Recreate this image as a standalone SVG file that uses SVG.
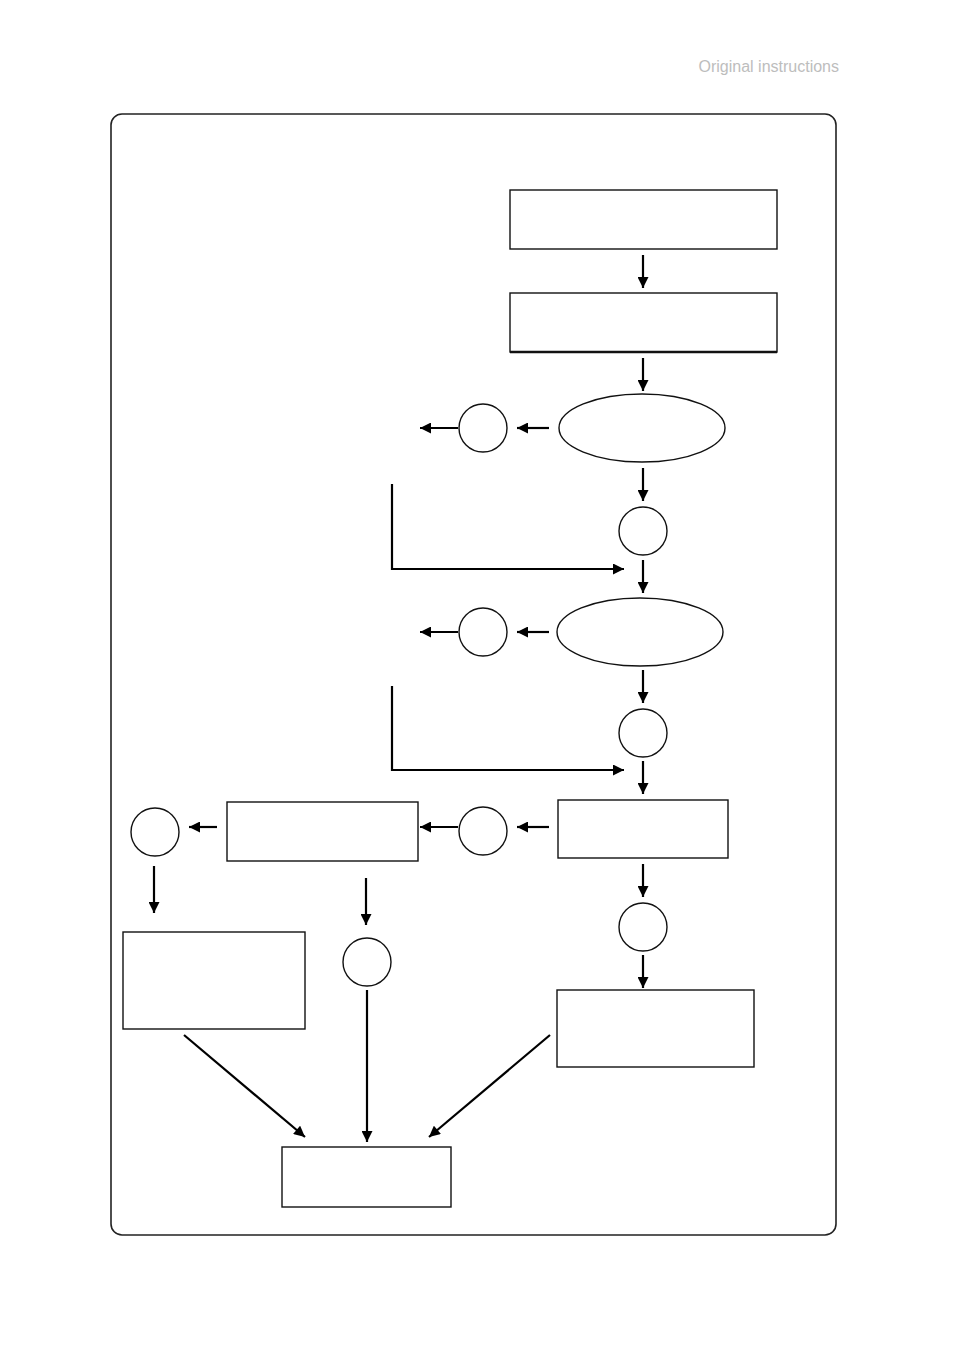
<svg xmlns="http://www.w3.org/2000/svg" width="955" height="1350" viewBox="0 0 955 1350">
<defs>
<style>
.frame{fill:none;stroke:#222;stroke-width:1.6}
.box{fill:#fff;stroke:#111;stroke-width:1.4}
.shape{fill:#fff;stroke:#111;stroke-width:1.4}
.conn{fill:none;stroke:#000;stroke-width:2.2}
.hdr{font-family:"Liberation Sans",Arial,sans-serif;font-size:16px;fill:#bdbdbd}
</style>
<marker id="ah" viewBox="0 0 10 10" refX="10" refY="5" markerWidth="5.5" markerHeight="5" markerUnits="strokeWidth" orient="auto">
<path d="M0,0 L10,5 L0,10 z" fill="#000"/>
</marker>
</defs>
<rect width="955" height="1350" fill="#fff"/>
<text class="hdr" x="839" y="72" text-anchor="end">Original instructions</text>
<rect class="frame" x="111" y="114" width="725" height="1121" rx="11"/>

<g id="box1"><rect class="box" x="510" y="190" width="267" height="59"/></g>
<g id="box2"><rect class="box" x="510" y="293" width="267" height="59"/><line x1="510" y1="352" x2="777" y2="352" stroke="#111" stroke-width="2.4"/></g>
<g id="ellipse1"><ellipse class="shape" cx="642" cy="428" rx="83" ry="34"/></g>
<g id="circle1"><circle class="shape" cx="483" cy="428" r="24"/></g>
<g id="circle2"><circle class="shape" cx="643" cy="531" r="24"/></g>
<g id="ellipse2"><ellipse class="shape" cx="640" cy="632" rx="83" ry="34"/></g>
<g id="circle3"><circle class="shape" cx="483" cy="632" r="24"/></g>
<g id="circle4"><circle class="shape" cx="643" cy="733" r="24"/></g>
<g id="box3"><rect class="box" x="558" y="800" width="170" height="58"/></g>
<g id="circle5"><circle class="shape" cx="483" cy="831" r="24"/></g>
<g id="box4"><rect class="box" x="227" y="802" width="191" height="59"/></g>
<g id="circle6"><circle class="shape" cx="155" cy="832" r="24"/></g>
<g id="box5"><rect class="box" x="123" y="932" width="182" height="97"/></g>
<g id="circle7"><circle class="shape" cx="367" cy="962" r="24"/></g>
<g id="circle8"><circle class="shape" cx="643" cy="927" r="24"/></g>
<g id="box6"><rect class="box" x="557" y="990" width="197" height="77"/></g>
<g id="box7"><rect class="box" x="282" y="1147" width="169" height="60"/></g>

<g id="connectors">
<line class="conn" x1="643" y1="255" x2="643" y2="288" marker-end="url(#ah)"/>
<line class="conn" x1="643" y1="358" x2="643" y2="391" marker-end="url(#ah)"/>
<line class="conn" x1="549" y1="428" x2="517" y2="428" marker-end="url(#ah)"/>
<line class="conn" x1="458" y1="428" x2="420" y2="428" marker-end="url(#ah)"/>
<line class="conn" x1="643" y1="468" x2="643" y2="501" marker-end="url(#ah)"/>
<line class="conn" x1="643" y1="560" x2="643" y2="593" marker-end="url(#ah)"/>
<polyline class="conn" points="392,484 392,569 624,569" marker-end="url(#ah)"/>
<line class="conn" x1="549" y1="632" x2="517" y2="632" marker-end="url(#ah)"/>
<line class="conn" x1="458" y1="632" x2="420" y2="632" marker-end="url(#ah)"/>
<line class="conn" x1="643" y1="670" x2="643" y2="703" marker-end="url(#ah)"/>
<line class="conn" x1="643" y1="761" x2="643" y2="794" marker-end="url(#ah)"/>
<polyline class="conn" points="392,686 392,770 624,770" marker-end="url(#ah)"/>
<line class="conn" x1="549" y1="827" x2="517" y2="827" marker-end="url(#ah)"/>
<line class="conn" x1="458" y1="827" x2="420" y2="827" marker-end="url(#ah)"/>
<line class="conn" x1="217" y1="827" x2="189" y2="827" marker-end="url(#ah)"/>
<line class="conn" x1="154" y1="866" x2="154" y2="913" marker-end="url(#ah)"/>
<line class="conn" x1="366" y1="878" x2="366" y2="925" marker-end="url(#ah)"/>
<line class="conn" x1="367" y1="990" x2="367" y2="1142" marker-end="url(#ah)"/>
<line class="conn" x1="643" y1="864" x2="643" y2="897" marker-end="url(#ah)"/>
<line class="conn" x1="643" y1="955" x2="643" y2="988" marker-end="url(#ah)"/>
<line class="conn" x1="184" y1="1035" x2="305" y2="1137" marker-end="url(#ah)"/>
<line class="conn" x1="550" y1="1035" x2="429" y2="1137" marker-end="url(#ah)"/>
</g>
</svg>
